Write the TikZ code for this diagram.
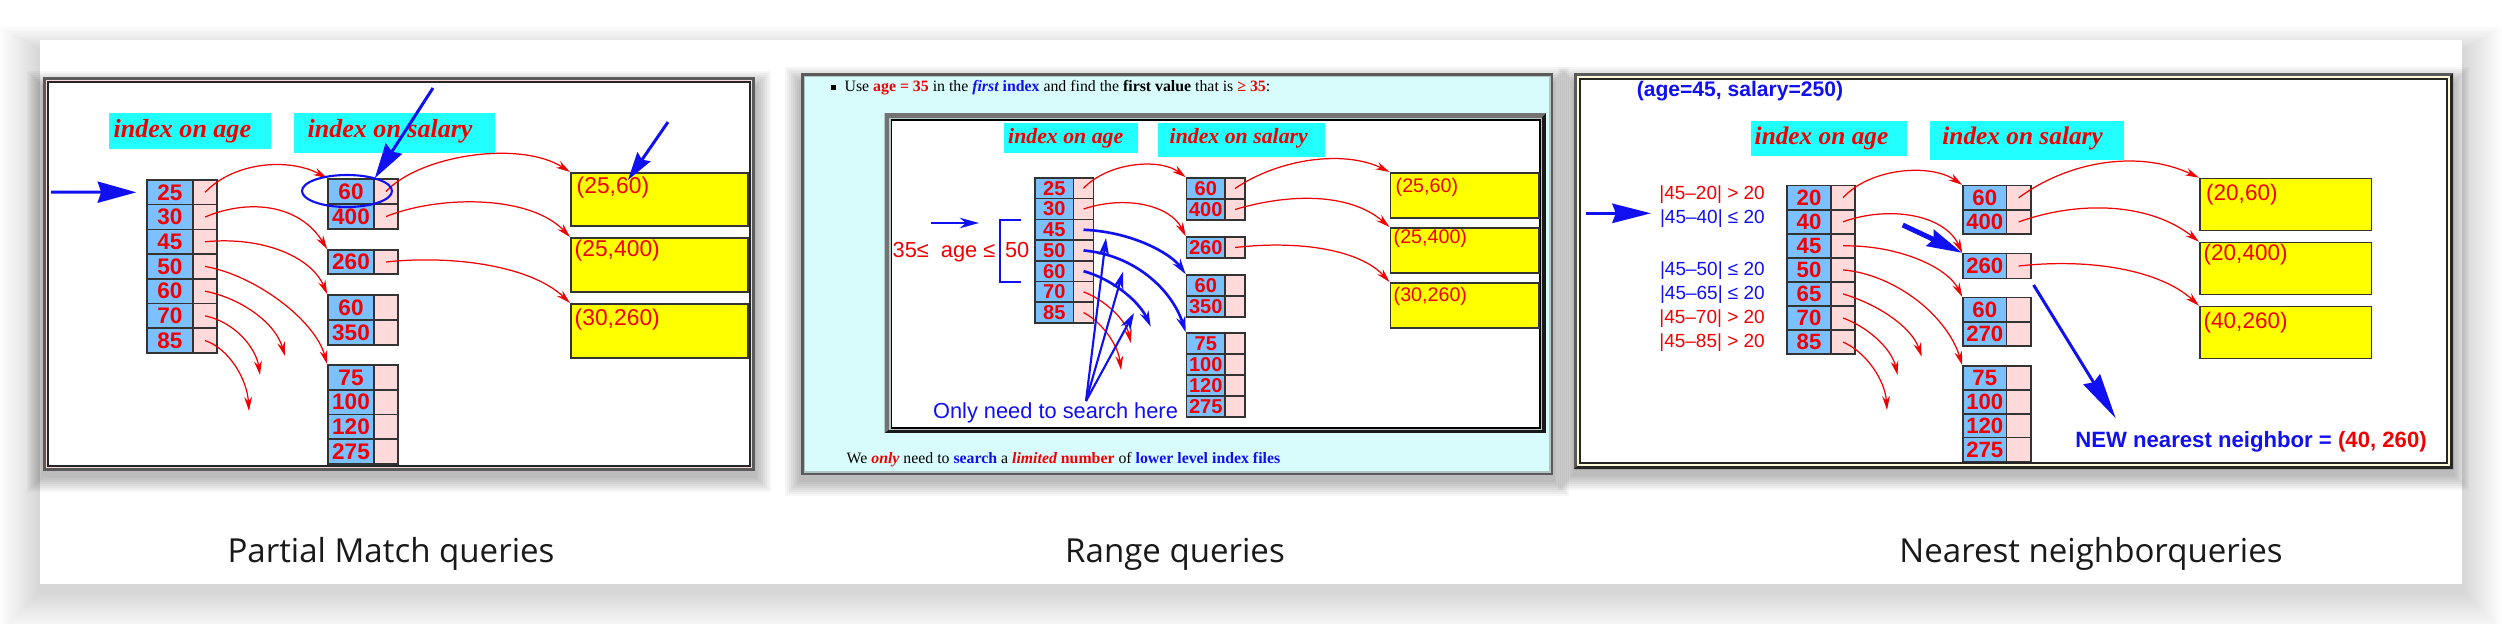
\documentclass[tikz,border=0pt]{standalone}
\usepackage{fontspec}
\setmainfont{Liberation Serif}
\newfontfamily\hv{Liberation Sans}
\newfontfamily\capfont{Open Sans}
\usetikzlibrary{arrows.meta}
\definecolor{keyblue}{HTML}{7CC0FF}
\definecolor{ptrpink}{HTML}{FFDADA}
\definecolor{lblcyan}{HTML}{22FFFF}
\definecolor{recyellow}{HTML}{FFFF00}
\definecolor{idxred}{HTML}{F00000}
\definecolor{idxblue}{HTML}{1010F0}
\definecolor{pagecyan}{HTML}{D8FCFC}
\definecolor{framegray}{HTML}{5A5A5A}
\definecolor{cream}{HTML}{FFFBD8}
\newcommand{\px}{0.284528pt}
\newcommand{\fsz}[1]{\fontsize{#1}{#1}\selectfont}
% one index file: key column + pointer column
\newcommand{\idxcol}[7]{%
  \foreach \v [count=\i] in {#7} {
    \node[keycell, minimum width=#4*\px, minimum height=#6*\px] (#1\i k) at ({#2+#4/2},{#3+(\i-0.5)*#6}) {\v};
    \node[ptrcell, minimum width=#5*\px, minimum height=#6*\px] (#1\i p) at ({#2+#4+#5/2},{#3+(\i-0.5)*#6}) {};
  }}
\newcommand{\softshadow}[4]{%
  \foreach \s in {1,...,8}
    \fill[black,opacity=0.035] ({#1-2*\s},{#2-2*\s+10}) rectangle ({#3+2*\s},{#4+2*\s+5});}
\tikzset{
  keycell/.style={draw=black!80, line width=0.45pt, fill=keyblue, text=idxred, inner sep=0pt, cellfont},
  ptrcell/.style={draw=black!80, line width=0.45pt, fill=ptrpink, inner sep=0pt},
  cellfont/.style={font=\hv\bfseries\fsz{6.4}},
  databox/.style={draw=black!80, line width=0.45pt, fill=recyellow, anchor=north west, inner sep=0pt},
  datatext/.style={anchor=west, text=idxred, inner sep=0pt, datafont},
  datafont/.style={font=\hv\fsz{6.5}},
  idxlbl/.style={anchor=west, text=idxred, inner sep=0pt, lblfont},
  lblfont/.style={font=\bfseries\itshape\fsz{7.4}},
  ptrlink/.style={idxred, line width=0.35pt, -{Stealth[length=4pt,width=2.2pt]}},
  hitlink/.style={idxblue, line width=0.75pt, -{Stealth[length=4.5pt,width=2.6pt]}},
  pointer/.style={idxblue, line width=0.85pt, -{Stealth[length=10pt,width=5.5pt,inset=1pt]}},
  caption/.style={font=\capfont\fsz{9.4}, text=black!90, inner sep=0pt},
}

\begin{document}
\begin{tikzpicture}[x=0.01cm,y=-0.01cm]
  \useasboundingbox (0,0) rectangle (2502,624);
  % card
  \foreach \s in {1,...,20}
    \fill[black,opacity=0.008] ({40-2*\s},{50-1.2*\s}) rectangle ({2462+2*\s},{592+2*\s});
  \fill[white] (40,40) rectangle (2462,584);

  % ---- partial match ----
  \softshadow{43}{77}{755}{471}
  \fill[framegray] (43,77) rectangle (755,471);
  \fill[ptrpink] (46,80) rectangle (752,468);
  \filldraw[fill=white,draw=black!85,line width=0.4pt] (48,82) rectangle (750,466);
  \fill[lblcyan] (109,113) rectangle (271,149);
  \node[idxlbl] (mlage) at (113,131) {index on age};
  \fill[lblcyan] (294,113) rectangle (495,153);
  \node[idxlbl] (mlsal) at (307,131) {index on salary};
  \idxcol{ma}{147}{180}{46}{24}{24.7}{25,30,45,50,60,70,85}
  \idxcol{msa}{328}{179}{46}{24}{25}{60,400}
  \idxcol{msb}{328}{250}{46}{24}{24}{260}
  \idxcol{msc}{328}{295}{46}{24}{25}{60,350}
  \idxcol{msd}{328}{365}{46}{24}{24.75}{75,100,120,275}
  \node[databox, minimum width=177*\px, minimum height=53*\px] (md1) at (570,172) {};
  \node[databox, minimum width=177*\px, minimum height=54*\px] (md2) at (570,237) {};
  \node[databox, minimum width=177*\px, minimum height=54*\px] (md3) at (570,303) {};
  \node[datatext] (md1t) at (576,188) {(25,60)};
  \node[datatext] (md2t) at (574,251) {(25,400)};
  \node[datatext] (md3t) at (574,320) {(30,260)};
  \coordinate (mx5) at (285,356);
  \coordinate (mx6) at (260,375);
  \coordinate (mx7) at (249,411);
  \draw[ptrlink] (ma1p.center) .. controls (235,161) and (290,158) .. (msa1k.north west);
  \draw[ptrlink] (ma2p.center) .. controls (250,198) and (300,205) .. (msb1k.north west);
  \draw[ptrlink] (ma3p.center) .. controls (265,236) and (312,258) .. (msc1k.north west);
  \draw[ptrlink] (ma4p.center) .. controls (255,275) and (315,320) .. (msd1k.north west);
  \draw[ptrlink] (ma5p.center) .. controls (240,298) and (275,322) .. (mx5);
  \draw[ptrlink] (ma6p.center) .. controls (235,322) and (256,348) .. (mx6);
  \draw[ptrlink] (ma7p.center) .. controls (228,348) and (247,378) .. (mx7);
  \draw[ptrlink] (msa1p.center) .. controls (420,155) and (520,140) .. (md1.north west);
  \draw[ptrlink] (msa2p.center) .. controls (440,195) and (530,195) .. (md2.north west);
  \draw[ptrlink] (msb1p.center) .. controls (450,255) and (530,265) .. (md3.north west);
  \coordinate (min) at (51,192);
  \draw[pointer,-{Stealth[length=11pt,width=6pt,inset=1pt]},shorten >=2.8pt] (min) -- (ma1k.west);
  \draw[idxblue,line width=0.6pt] (347,191) ellipse (45 and 16);
  \coordinate (mp1) at (433,88);
  \draw[pointer] (mp1) -- (msa1k.north east);
  \coordinate (mp2) at (668,122);
  \coordinate (mp2e) at (628,180);
  \draw[pointer,-{Stealth[length=8pt,width=4.5pt,inset=1pt]}] (mp2) -- (mp2e);

  % ---- range ----
  \begin{scope}[cellfont/.style={font=\hv\bfseries\fsz{5.7}}, datafont/.style={font=\hv\fsz{5.6}},
                lblfont/.style={font=\bfseries\itshape\fsz{6.2}}]
  \softshadow{801}{73}{1553}{475}
  \fill[framegray] (801,73) rectangle (1553,475);
  \fill[pagecyan!55!gray] (803.5,75.5) rectangle (1550.5,472.5);
  \fill[pagecyan] (805,77) rectangle (1549,471);
  \node[anchor=west, inner sep=0pt, font=\fsz{4.5}] (gtop) at (830,88)
    {\rule[.12em]{.33em}{.33em}\hspace{.55em}Use {\color{idxred}\bfseries age = 35} in the
     {\color{idxblue}\bfseries\itshape first} {\color{idxblue}\bfseries index} and find the
     {\bfseries first value} that is {\color{idxred}\bfseries ≥ 35}:};
  \node[anchor=west, inner sep=0pt, font=\fsz{4.5}] (gbot) at (846,460)
    {We {\color{idxred}\bfseries\itshape only} need to {\color{idxblue}\bfseries search} a
     {\color{idxred}\bfseries\itshape limited} {\color{idxred}\bfseries number} of
     {\color{idxblue}\bfseries lower level index files}};
  \fill[black!90] (884.5,113) rectangle (1546,433);
  \fill[framegray!85] (884.5,433) -- (884.5,113) -- (1546,113) -- (1540,119.5) -- (891,119.5) -- (891,428) -- cycle;
  \fill[pagecyan!60!gray] (889,117.5) rectangle (1542,430);
  \filldraw[fill=white,draw=black,line width=0.3pt] (891.5,120) rectangle (1540,428);
  \fill[lblcyan] (1004,123) rectangle (1138,153);
  \node[idxlbl] (glage) at (1007.5,138) {index on age};
  \fill[lblcyan] (1158,123) rectangle (1325,157);
  \node[idxlbl] (glsal) at (1169,138) {index on salary};
  \idxcol{ga}{1035}{178}{38.5}{20}{20.7}{25,30,45,50,60,70,85}
  \idxcol{gsa}{1186.5}{178}{38.5}{20}{21}{60,400}
  \idxcol{gsb}{1186.5}{237}{38.5}{20}{21}{260}
  \idxcol{gsc}{1186.5}{275}{38.5}{20}{21}{60,350}
  \idxcol{gsd}{1186.5}{333}{38.5}{20}{21}{75,100,120,275}
  \node[databox, minimum width=148.5*\px, minimum height=45*\px] (gd1) at (1389.5,172) {};
  \node[databox, minimum width=148.5*\px, minimum height=45*\px] (gd2) at (1389.5,227) {};
  \node[databox, minimum width=148.5*\px, minimum height=45*\px] (gd3) at (1389.5,282) {};
  \node[datatext] (gd1t) at (1395,187) {(25,60)};
  \node[datatext] (gd2t) at (1393,238) {(25,400)};
  \node[datatext] (gd3t) at (1393,296) {(30,260)};
  \node[text=idxred, font=\hv\fsz{6.2}, inner sep=0pt] (grange) at (961,252) {35≤ \ age ≤ \,50};
  \draw[idxblue, line width=0.6pt] (1021.3,220) -- (1000,220) -- (1000,281.7) -- (1021.3,281.7);
  \coordinate (gin1) at (931,223);
  \coordinate (gin2) at (979,223);
  \draw[idxblue, line width=0.6pt, -{Stealth[length=5.5pt,width=3pt]}] (gin1) -- (gin2);
  \node[text=idxblue, font=\hv\fsz{6.2}, inner sep=0pt] (gonly) at (1055.5,413) {Only need to search here};
  \coordinate (gx5) at (1150.7,326.7);
  \coordinate (gx6) at (1130.8,343);
  \coordinate (gx7) at (1121,370);
  \draw[ptrlink] (ga1p.center) .. controls (1108,162) and (1160,158) .. (gsa1k.north west);
  \draw[ptrlink] (ga2p.center) .. controls (1125,195) and (1170,205) .. (gsb1k.north west);
  \draw[ptrlink] (ga6p.center) .. controls (1105,300) and (1126,320) .. (gx6);
  \draw[ptrlink] (ga7p.center) .. controls (1102,322) and (1118,345) .. (gx7);
  \draw[ptrlink] (gsa1p.center) .. controls (1280,158) and (1345,150) .. (gd1.north west);
  \draw[ptrlink] (gsa2p.center) .. controls (1290,193) and (1350,193) .. (gd2.north west);
  \draw[ptrlink] (gsb1p.center) .. controls (1300,240) and (1360,250) .. (gd3.north west);
  \draw[hitlink] (ga3p.center) .. controls (1135,232) and (1172,255) .. (gsc1k.north west);
  \draw[hitlink] (ga4p.center) .. controls (1135,255) and (1172,290) .. (gsd1k.north west);
  \draw[hitlink] (ga5p.center) .. controls (1115,280) and (1140,303) .. (gx5);
  \coordinate (gsrc) at (1086,401);
  \coordinate (gt1) at (1106,238);
  \coordinate (gt2) at (1123,271.7);
  \coordinate (gt3) at (1134,313);
  \foreach \t in {gt1,gt2,gt3}
    \draw[idxblue, line width=0.6pt, -{Stealth[length=5pt,width=3pt]}] (gsrc) -- (\t);
  \end{scope}

  % ---- nearest neighbor ----
  \begin{scope}[cellfont/.style={font=\hv\bfseries\fsz{6.3}}, datafont/.style={font=\hv\fsz{6.4}},
                lblfont/.style={font=\bfseries\itshape\fsz{7.2}}]
  \softshadow{1574}{73}{2453}{469}
  \fill[framegray] (1574,73) rectangle (2453,469);
  \fill[black!85] (1574,469) -- (2453,469) -- (2453,73) -- (2450,76) -- (2450,466) -- (1577,466) -- cycle;
  \fill[cream] (1577,76) rectangle (2450,466);
  \filldraw[fill=white,draw=black!85,line width=0.4pt] (1580,79) rectangle (2447,463);
  \node[text=idxblue, font=\hv\bfseries\fsz{6}, inner sep=0pt] (nquery) at (1740,91) {(age=45, salary=250)};
  \fill[lblcyan] (1750.6,121) rectangle (1907,156);
  \node[idxlbl] (nlage) at (1754,138) {index on age};
  \fill[lblcyan] (1930,121) rectangle (2124,160);
  \node[idxlbl] (nlsal) at (1941.7,138) {index on salary};
  \idxcol{na}{1787}{185.7}{44}{24}{24.05}{20,40,45,50,65,70,85}
  \idxcol{nsa}{1963}{185.7}{43.6}{24.1}{24.15}{60,400}
  \idxcol{nsb}{1963}{253.7}{43.6}{24.1}{24.6}{260}
  \idxcol{nsc}{1963}{297.7}{43.6}{24.1}{24.15}{60,270}
  \idxcol{nsd}{1963}{366}{43.6}{24.1}{23.9}{75,100,120,275}
  \node[databox, minimum width=171.6*\px, minimum height=52*\px] (nd1) at (2199,177.7) {};
  \node[databox, minimum width=171.6*\px, minimum height=52*\px] (nd2) at (2199,241.7) {};
  \node[databox, minimum width=171.6*\px, minimum height=52*\px] (nd3) at (2199,305.7) {};
  \node[datatext] (nd1t) at (2205.5,195) {(20,60)};
  \node[datatext] (nd2t) at (2203,255) {(20,400)};
  \node[datatext] (nd3t) at (2203,323) {(40,260)};
  \foreach \y/\c/\txt [count=\k] in {195/idxred/{|45–20| > 20}, 218.3/idxblue/{|45–40| ≤ 20},
      270.7/idxblue/{|45–50| ≤ 20}, 295/idxblue/{|45–65| ≤ 20},
      319/idxred/{|45–70| > 20}, 342.7/idxred/{|45–85| > 20}}
    \node[anchor=east, text=\c, font=\hv\fsz{5.4}, inner sep=0pt] (ndist\k) at (1765.5,\y) {\txt};
  \node[font=\hv\bfseries\fsz{6.3}, inner sep=0pt] (nnew) at (2251,442)
    {\color{idxblue}NEW nearest neighbor = \color{idxred}(40, 260)};
  \coordinate (nx5) at (1921.7,356.7);
  \coordinate (nx6) at (1897.5,375);
  \coordinate (nx7) at (1887,410);
  \draw[ptrlink] (na1p.center) .. controls (1870,168) and (1930,163) .. (nsa1k.north west);
  \draw[ptrlink] (na2p.center) .. controls (1890,205) and (1945,215) .. (nsb1k.north west);
  \draw[ptrlink] (na3p.center) .. controls (1900,245) and (1948,268) .. (nsc1k.north west);
  \draw[ptrlink] (na4p.center) .. controls (1898,275) and (1948,318) .. (nsd1k.north west);
  \draw[ptrlink] (na5p.center) .. controls (1880,305) and (1912,328) .. (nx5);
  \draw[ptrlink] (na6p.center) .. controls (1870,328) and (1892,350) .. (nx6);
  \draw[ptrlink] (na7p.center) .. controls (1866,352) and (1885,380) .. (nx7);
  \draw[ptrlink] (nsa1p.center) .. controls (2070,160) and (2140,150) .. (nd1.north west);
  \draw[ptrlink] (nsa2p.center) .. controls (2080,200) and (2150,203) .. (nd2.north west);
  \draw[ptrlink] (nsb1p.center) .. controls (2090,258) and (2160,270) .. (nd3.north west);
  \coordinate (nin1) at (1586,213.3);
  \coordinate (nin2) at (1651,213.3);
  \draw[pointer,-{Stealth[length=11pt,width=5.5pt,inset=1pt]}] (nin1) -- (nin2);
  \coordinate (nb1) at (1902.7,225);
  \draw[pointer,line width=1.4pt,-{Stealth[length=10pt,width=5pt,inset=1pt]}] (nb1) -- (nsb1k.north west);
  \coordinate (nb2s) at (2033.6,285);
  \coordinate (nb2e) at (2115.7,418.3);
  \draw[pointer,-{Stealth[length=13pt,width=5.5pt,inset=1pt]}] (nb2s) -- (nb2e);
  \end{scope}

  % captions
  \node[caption] (cap1) at (391,554) {Partial Match queries};
  \node[caption] (cap2) at (1175,554) {Range queries};
  \node[caption] (cap3) at (2091,554) {Nearest neighborqueries};
\end{tikzpicture}
\end{document}
